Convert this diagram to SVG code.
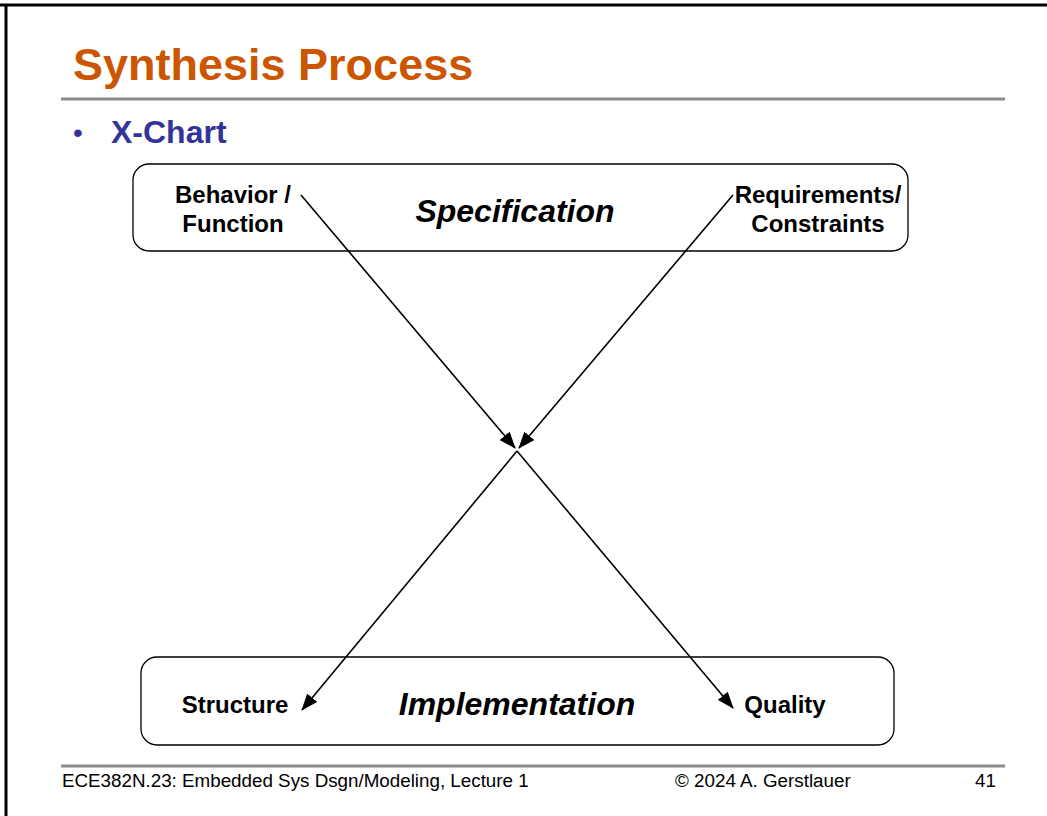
<svg xmlns="http://www.w3.org/2000/svg" width="1047" height="816" viewBox="0 0 1047 816">
<defs>
<marker id="ah" markerWidth="17" markerHeight="13" refX="16" refY="6.5" orient="auto" markerUnits="userSpaceOnUse">
<path d="M0,0 L17,6.5 L0,13 Z" fill="#000"/>
</marker>
<style>
.box{fill:#fff;stroke:#000;stroke-width:1.3}
.lbl{font-family:"Liberation Sans",Arial,sans-serif;font-weight:bold;font-size:24px;fill:#000;text-anchor:middle}
.big{font-family:"Liberation Sans",Arial,sans-serif;font-weight:bold;font-style:italic;font-size:32px;fill:#000;text-anchor:middle}
.foot{font-family:"Liberation Sans",Arial,sans-serif;font-size:18.8px;fill:#000}
.edge{stroke:#000;stroke-width:1.6;fill:none;marker-end:url(#ah)}
.rule{stroke:#8c8c8c;stroke-width:3}
</style>
</defs>
<rect width="1047" height="816" fill="#fff"/>
<line x1="0" y1="5" x2="1047" y2="5" stroke="#000" stroke-width="3"/>
<line x1="6" y1="4" x2="6" y2="816" stroke="#000" stroke-width="3"/>
<text x="73" y="80" font-family="'Liberation Sans',Arial,sans-serif" font-weight="bold" font-size="45" fill="#CC5500">Synthesis Process</text>
<line class="rule" x1="61" y1="99" x2="1005" y2="99"/>
<text x="73" y="142" font-family="'Liberation Sans',Arial,sans-serif" font-size="28" fill="#333399">•</text>
<text x="111" y="143" font-family="'Liberation Sans',Arial,sans-serif" font-weight="bold" font-size="32" fill="#333399">X-Chart</text>
<g id="specification">
<rect class="box" x="133" y="164" width="775" height="87" rx="16"/>
<text class="big" x="515" y="222">Specification</text>
</g>
<g id="behavior">
<text class="lbl" x="233" y="203">Behavior /</text>
<text class="lbl" x="233" y="232">Function</text>
</g>
<g id="requirements">
<text class="lbl" x="818" y="203">Requirements/</text>
<text class="lbl" x="818" y="232">Constraints</text>
</g>
<g id="implementation">
<rect class="box" x="141" y="657" width="753" height="88" rx="16"/>
<text class="big" x="517" y="715">Implementation</text>
</g>
<g id="structure">
<text class="lbl" x="235" y="713">Structure</text>
</g>
<g id="quality">
<text class="lbl" x="785" y="713">Quality</text>
</g>
<g id="connectors">
<line class="edge" x1="301" y1="195" x2="515" y2="448"/>
<line class="edge" x1="733" y1="195" x2="519" y2="448"/>
<line class="edge" x1="517" y1="451" x2="302" y2="710"/>
<line class="edge" x1="517" y1="451" x2="733" y2="708"/>
</g>
<line class="rule" x1="61" y1="766" x2="1005" y2="766"/>
<text class="foot" x="62" y="787">ECE382N.23: Embedded Sys Dsgn/Modeling, Lecture 1</text>
<text class="foot" x="675" y="787">© 2024 A. Gerstlauer</text>
<text class="foot" x="996" y="787" text-anchor="end">41</text>
</svg>
